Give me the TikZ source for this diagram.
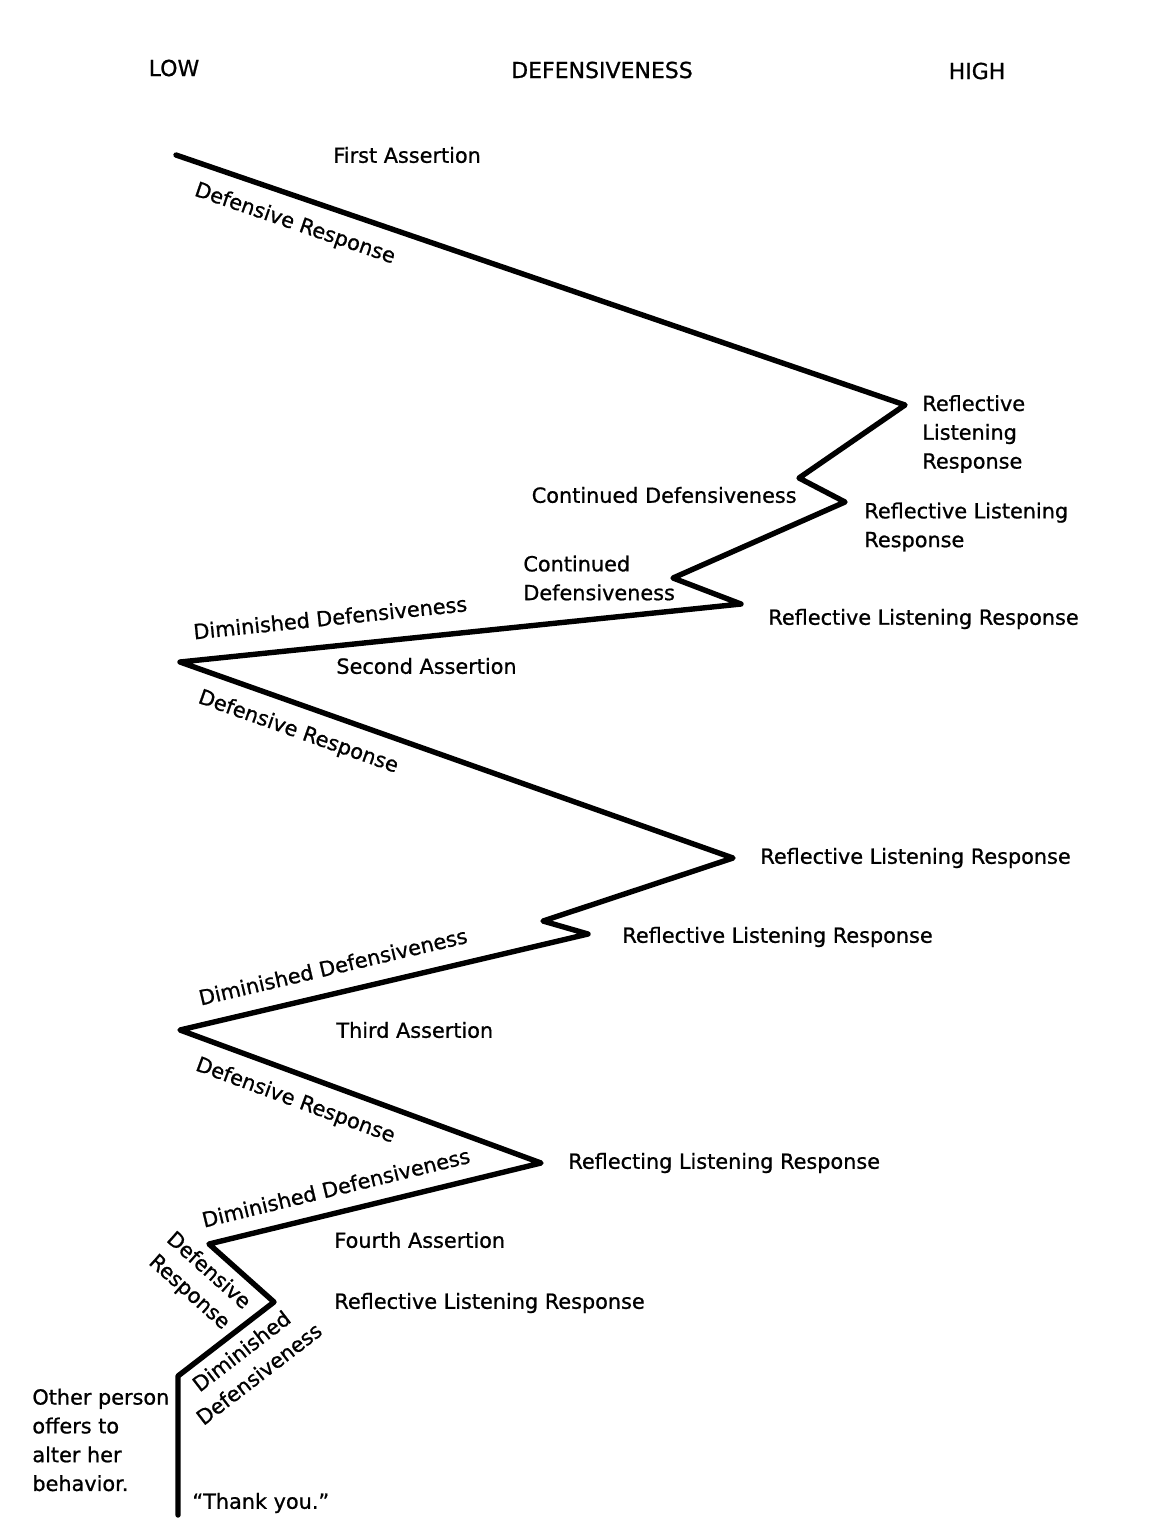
\documentclass[tikz,border=0pt]{standalone}
\usepackage{fontspec}
\setmainfont{DejaVu Sans}[FakeBold=0.9]
\tikzset{
  zig/.style={line width=2.7pt, line join=round, line cap=round},
  lbl/.style={font=\fontsize{10.4pt}{14.4pt}\selectfont, inner sep=0pt, anchor=west, align=left},
  head/.style={font=\fontsize{11pt}{13pt}\selectfont, inner sep=0pt},
  tag/.style={font=\fontsize{10.4pt}{14.4pt}\selectfont, inner sep=2pt, sloped, align=center}
}
\begin{document}
\begin{tikzpicture}[x=0.5pt,y=-0.5pt]
  \useasboundingbox (0,0) rectangle (1150,1522);
  % corners of the zigzag
  \coordinate (v0) at (176,155);
  \coordinate (v1) at (905,405);
  \coordinate (v2) at (799,478);
  \coordinate (v3) at (845,502);
  \coordinate (v4) at (673,578);
  \coordinate (v5) at (741,604);
  \coordinate (v6) at (180,662);
  \coordinate (v7) at (733,858);
  \coordinate (v8) at (543,921);
  \coordinate (v9) at (588,934);
  \coordinate (v10) at (180,1030);
  \coordinate (v11) at (541,1163);
  \coordinate (v12) at (209,1244);
  \coordinate (v13) at (274,1302);
  \coordinate (v14) at (178,1376);
  \coordinate (v15) at (178,1515);

  \node[head] (low) at (174,68) {LOW};
  \node[head] (scale) at (602,70) {DEFENSIVENESS};
  \node[head] (high) at (977,71) {HIGH};

  \draw[zig] (v0)
    -- node[tag, pos=.175, below=5pt] (dr1) {Defensive Response} (v1)
    -- (v2) -- (v3) -- (v4) -- (v5)
    -- node[tag, pos=.727, above=7pt] (dd1) {Diminished Defensiveness} (v6)
    -- node[tag, pos=.23, below=5pt] (dr2) {Defensive Response} (v7)
    -- (v8) -- (v9)
    -- node[tag, pos=.61, above=6pt] (dd2) {Diminished Defensiveness} (v10)
    -- node[tag, pos=.345, below=5pt] (dr3) {Defensive Response} (v11)
    -- node[tag, pos=.6, above=5pt] (dd3) {Diminished Defensiveness} (v12)
    -- node[tag, pos=.2, below=2pt] (dr4) {Defensive\\Response} (v13)
    -- node[tag, pos=.46, below=2pt] (dd4) {Diminished\\Defensiveness} (v14)
    -- (v15);

  \node[lbl] (a1) at (333,155) {First Assertion};
  \node[lbl] (rl1) at (922,434) {Reflective\\Listening\\Response};
  \node[lbl, anchor=east] (cd1) at (797,495) {Continued Defensiveness};
  \node[lbl] (rl2) at (864,527) {Reflective Listening\\Response};
  \node[lbl] (cd2) at (523,578) {Continued\\Defensiveness};
  \node[lbl] (rl3) at (768,619) {Reflective Listening Response};
  \node[lbl] (a2) at (336,666) {Second Assertion};
  \node[lbl] (rl4) at (760,858) {Reflective Listening Response};
  \node[lbl] (rl5) at (622,937) {Reflective Listening Response};
  \node[lbl] (a3) at (336,1030) {Third Assertion};
  \node[lbl] (rl6) at (568,1163) {Reflecting Listening Response};
  \node[lbl] (a4) at (334,1240) {Fourth Assertion};
  \node[lbl] (rl7) at (334,1303) {Reflective Listening Response};
  \node[lbl] (offer) at (32,1440) {Other person\\offers to\\alter her\\behavior.};
  \node[lbl] (thanks) at (192,1503) {``Thank you.''};
\end{tikzpicture}
\end{document}
